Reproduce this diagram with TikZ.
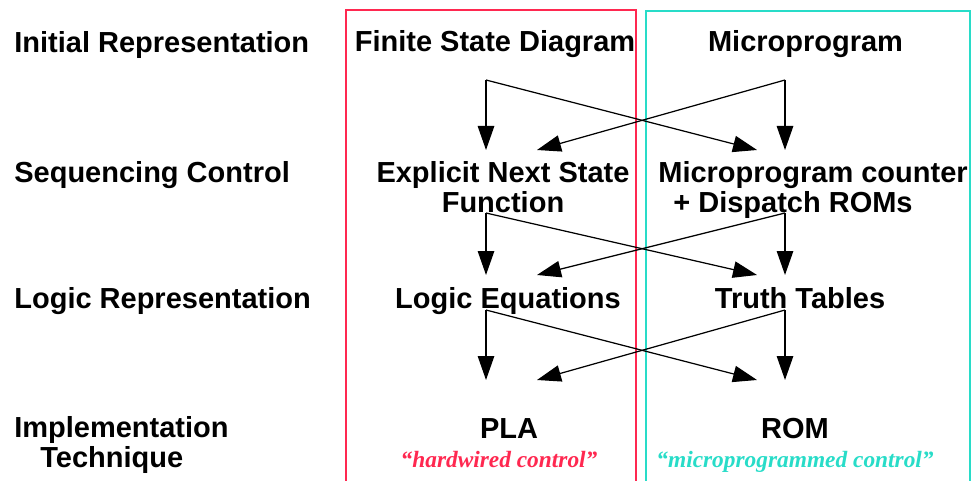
\documentclass[tikz,border=0pt]{standalone}
\usepackage{fontspec}
\setmainfont{Liberation Sans}
\newfontfamily\tagfont{Liberation Serif}
\usepackage{tikz}
\usetikzlibrary{arrows.meta,positioning}

\definecolor{hwred}{RGB}{255,40,80}
\definecolor{mpcyan}{RGB}{40,220,200}

\begin{document}
\begin{tikzpicture}[
    stage/.style={inner sep=0pt, font=\fontsize{16.5}{16.6}\selectfont\bfseries, anchor=base west, align=left},
    step box/.style={inner sep=0pt, font=\fontsize{16.5}{16.6}\selectfont\bfseries, anchor=base, align=center},
    tag/.style={inner sep=0pt, font=\fontsize{13.3}{14}\selectfont\tagfont\bfseries\itshape, anchor=base},
    arrow/.style={-{Triangle[length=0.48cm,width=0.33cm]}, line width=0.7pt},
    hwbox/.style={draw=hwred, line width=0.85pt},
    mpbox/.style={draw=mpcyan, line width=0.85pt}
]
    \useasboundingbox (0,0) rectangle (19.44,-9.62);

    % Style boxes
    \draw[hwbox] (6.92,-9.7) |- (12.72,-0.2) -- (12.72,-9.7);
    \draw[mpbox] (12.92,-9.7) |- (19.4,-0.22) -- (19.4,-9.7);

    % Stage names (base = last line)
    \node[stage] (init) at (0.28cm,-1.05cm) {Initial Representation};
    \node[stage] (seq) at (0.28cm,-3.66cm) {Sequencing Control};
    \node[stage] (logic) at (0.28cm,-6.16cm) {Logic Representation};
    \node[stage] (impl) at (0.28cm,-9.34cm) {Implementation\\\hspace*{0.52cm}Technique};

    % Hardwired column
    \node[step box] (fsd) at (9.9cm,-1.04cm) {Finite State Diagram};
    \node[step box] (ens) at (10.06cm,-4.24cm) {Explicit Next State\\Function};
    \node[step box] (leq) at (10.16cm,-6.16cm) {Logic Equations};
    \node[step box] (pla) at (10.18cm,-8.76cm) {PLA};
    \node[tag, text=hwred] (hw) at (9.98cm,-9.34cm) {“hardwired control”};

    % Microprogrammed column
    \node[step box] (micro) at (16.11cm,-1.04cm) {Microprogram};
    \node[stage] (mpc) at (13.16cm,-4.24cm) {Microprogram counter\\\hspace*{0.3cm}+ Dispatch ROMs};
    \node[step box] (tt) at (16.0cm,-6.16cm) {Truth Tables};
    \node[step box] (rom) at (15.9cm,-8.76cm) {ROM};
    \node[tag, text=mpcyan] (mp) at (15.9cm,-9.34cm) {“microprogrammed control”};

    % Arrow ends
    \coordinate (fsd-out) at (9.72cm,-1.6cm);
    \coordinate (micro-out) at (15.7cm,-1.6cm);
    \coordinate (ens-in) at (9.72cm,-3.0cm);
    \coordinate (ens-cross) at (10.74cm,-3.0cm);
    \coordinate (mpc-in) at (15.7cm,-3.0cm);
    \coordinate (mpc-cross) at (15.14cm,-3.0cm);
    \coordinate (ens-out) at (9.72cm,-4.26cm);
    \coordinate (mpc-out) at (15.7cm,-4.26cm);
    \coordinate (leq-in) at (9.72cm,-5.5cm);
    \coordinate (leq-cross) at (10.74cm,-5.5cm);
    \coordinate (tt-in) at (15.7cm,-5.5cm);
    \coordinate (tt-cross) at (15.14cm,-5.5cm);
    \coordinate (leq-out) at (9.72cm,-6.2cm);
    \coordinate (tt-out) at (15.7cm,-6.2cm);
    \coordinate (pla-in) at (9.72cm,-7.6cm);
    \coordinate (pla-cross) at (10.74cm,-7.6cm);
    \coordinate (rom-in) at (15.7cm,-7.6cm);
    \coordinate (rom-cross) at (15.14cm,-7.6cm);

    % Arrows
    \draw[arrow] (fsd-out) -- (ens-in);
    \draw[arrow] (fsd-out) -- (mpc-cross);
    \draw[arrow] (micro-out) -- (mpc-in);
    \draw[arrow] (micro-out) -- (ens-cross);
    \draw[arrow] (ens-out) -- (leq-in);
    \draw[arrow] (ens-out) -- (tt-cross);
    \draw[arrow] (mpc-out) -- (tt-in);
    \draw[arrow] (mpc-out) -- (leq-cross);
    \draw[arrow] (leq-out) -- (pla-in);
    \draw[arrow] (leq-out) -- (rom-cross);
    \draw[arrow] (tt-out) -- (rom-in);
    \draw[arrow] (tt-out) -- (pla-cross);
\end{tikzpicture}
\end{document}
